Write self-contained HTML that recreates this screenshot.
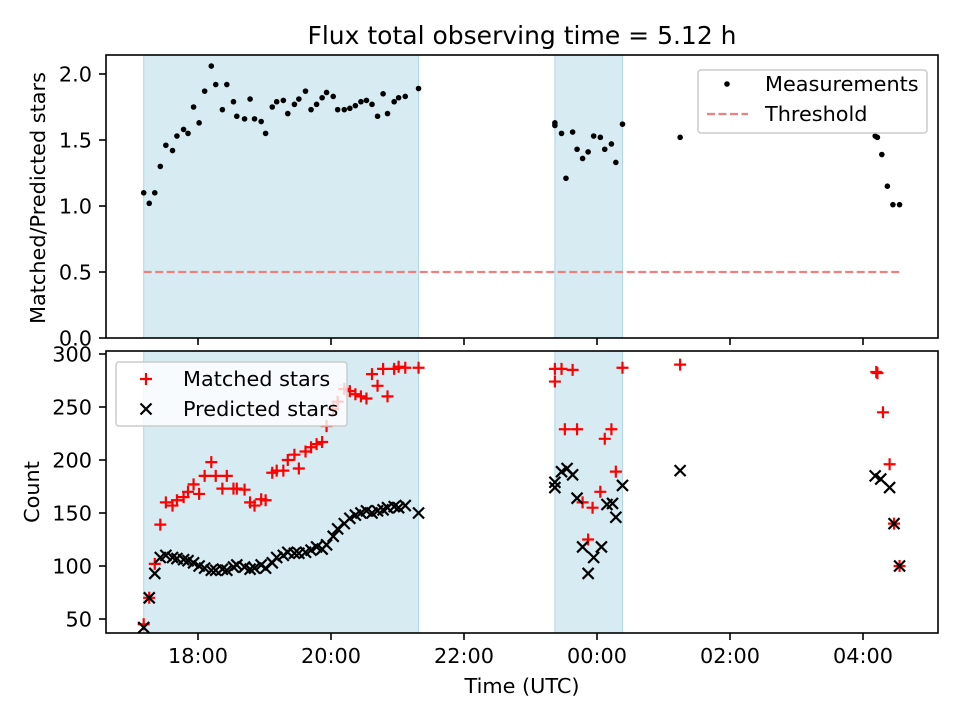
<!DOCTYPE html>
<html><head><meta charset="utf-8"><style>
body{margin:0;background:#fff}
svg{display:block;font-family:"DejaVu Sans","Liberation Sans",sans-serif}
</style></head><body>
<svg id="chart" width="960" height="720" viewBox="0 0 960 720"></svg>
<script>
// times in minutes since 16:00
const ratioTimes=[71,76,81,86,91,97,101,107,111,116,121,126,132,136,142,146,152,155,162,167,171,177,181,187,191,197,201,207,211,217,222,227,232,236,242,246,252,257,262,267,272,277,282,287,291,297,301,307,319,
442,442,448,452,458,462,467,472,477,483,487,493,497,503,555,731,733,737,742,747,753];
const ratioValues=[1.10,1.02,1.10,1.30,1.46,1.42,1.53,1.58,1.55,1.75,1.63,1.87,2.06,1.92,1.73,1.92,1.79,1.68,1.66,1.81,1.66,1.64,1.55,1.75,1.79,1.80,1.70,1.77,1.81,1.87,1.73,1.77,1.82,1.86,1.83,1.73,1.73,1.74,1.76,1.79,1.80,1.77,1.68,1.85,1.70,1.79,1.82,1.83,1.89,
1.63,1.61,1.55,1.21,1.56,1.43,1.36,1.41,1.53,1.52,1.43,1.47,1.33,1.62,1.52,1.53,1.52,1.39,1.15,1.01,1.01];
const matchedTimes=[71,76,81,86,91,97,101,107,111,116,121,126,132,136,142,146,152,155,162,167,171,177,181,187,191,197,201,207,211,217,222,227,232,236,242,246,252,257,262,267,272,277,282,287,291,297,301,307,319,
442,448,458,442,503,451,462,493,487,497,483,467,476,472,555,732,733,738,744,748,753];
const matchedValues=[45,70,102,139,160,157,162,165,170,177,168,185,198,185,173,185,173,173,172,160,157,163,162,188,190,190,200,205,192,208,212,215,217,232,248,255,267,265,262,260,258,281,270,286,260,286,288,287,287,
286,286,285,274,287,229,229,229,220,189,170,160,155,125,290,283,282,245,196,140,100];
const predTimes=[71,76,81,86,91,97,101,107,111,116,121,126,132,136,142,146,152,155,162,167,171,177,181,187,191,197,201,207,211,217,222,227,232,236,242,246,252,257,262,267,272,277,282,287,291,297,301,307,319,
442,442,448,453,458,462,503,489,494,497,467,484,477,472,555,731,736,744,748,753];
const predValues=[42,70,93,108,110,108,107,106,105,103,100,98,96,96,97,96,99,101,99,97,98,101,98,103,108,110,113,112,112,113,115,118,116,120,128,135,140,145,148,150,152,150,152,153,155,156,155,157,150,
179,174,189,192,186,164,176,158,159,146,118,118,108,93,190,185,182,174,140,100];
const thresholdTimes=[71,754];
const thresholdValue=0.5;
const spans=[[71,319],[442,503]];
const xTicks=[120,240,360,480,600,720];
const xTickLabels=["18:00","20:00","22:00","00:00","02:00","04:00"];
const topTicks=[0,0.5,1.0,1.5,2.0];
const topTickLabels=["0.0","0.5","1.0","1.5","2.0"];
const botTicks=[50,100,150,200,250,300];

const svg=document.getElementById('chart');
const NS='http://www.w3.org/2000/svg';
function el(tag,attrs,parent){const e=document.createElementNS(NS,tag);for(const k in attrs)e.setAttribute(k,attrs[k]);(parent||svg).appendChild(e);return e;}
const L=106,R=938,T1=55,B1=338,T2=351,B2=633;
const FS=20.8;
const xs=m=>198+(m-120)*(66.5/60);
const y1=v=>338-v*132;
const y2=v=>619-(v-50)*1.06;

let t=el('text',{x:522,y:44,'font-size':'25','text-anchor':'middle',fill:'#000'});t.textContent='Flux total observing time = 5.12 h';



function panel(top,bot,name){
  const g=el('g',{});
  
  
  el('rect',{x:L,y:top,width:R-L,height:bot-top,fill:'#fff'},g);
  spans.forEach(s=>{
    const r=el('rect',{x:xs(s[0]),y:top,width:xs(s[1])-xs(s[0]),height:bot-top,fill:'#add8e6','fill-opacity':0.5,stroke:'#add8e6','stroke-width':1},g);
    
    
  });
  return g;
}
const g1=panel(T1,B1,'ratio-panel');
const g2=panel(T2,B2,'count-panel');

const th=el('line',{x1:xs(thresholdTimes[0]),x2:xs(thresholdTimes[1]),y1:y1(thresholdValue),y2:y1(thresholdValue),stroke:'#f08080','stroke-width':2.2,'stroke-dasharray':'8,3.5'},g1);



ratioTimes.forEach((m,i)=>{
  const c=el('circle',{cx:xs(m),cy:y1(ratioValues[i]),r:2.8,fill:'#000'},g1);
  
  
});
matchedTimes.forEach((m,i)=>{
  const x=xs(m),y=y2(matchedValues[i]);
  const p=el('path',{d:`M${x-6},${y}H${x+6}M${x},${y-6}V${y+6}`,stroke:'#f00','stroke-width':2.2,fill:'none'},g2);
  
  
});
predTimes.forEach((m,i)=>{
  const x=xs(m),y=y2(predValues[i]);
  const p=el('path',{d:`M${x-5.5},${y-5.5}L${x+5.5},${y+5.5}M${x-5.5},${y+5.5}L${x+5.5},${y-5.5}`,stroke:'#000','stroke-width':2.2,fill:'none'},g2);
  
  
});

[[T1,B1],[T2,B2]].forEach(([top,bot],pi)=>{
  const f=el('rect',{x:L,y:top,width:R-L,height:bot-top,fill:'none',stroke:'#000','stroke-width':1.6});
  
  
  xTicks.forEach((m,i)=>{
    el('line',{x1:xs(m),x2:xs(m),y1:bot,y2:bot+7,stroke:'#000','stroke-width':1.6});
    if(pi){const tl=el('text',{x:xs(m),y:bot+30,'font-size':FS,'text-anchor':'middle'});tl.textContent=xTickLabels[i];
      
      }
  });
});
topTicks.forEach((v,i)=>{
  el('line',{x1:L-7,x2:L,y1:y1(v),y2:y1(v),stroke:'#000','stroke-width':1.6});
  const tl=el('text',{x:L-14,y:y1(v)+7.5,'font-size':FS,'text-anchor':'end'});tl.textContent=topTickLabels[i];
  
  
});
botTicks.forEach(v=>{
  el('line',{x1:L-7,x2:L,y1:y2(v),y2:y2(v),stroke:'#000','stroke-width':1.6});
  const tl=el('text',{x:L-14,y:y2(v)+7.5,'font-size':FS,'text-anchor':'end'});tl.textContent=String(v);
  
  
});
let a=el('text',{x:0,y:0,'font-size':FS,'text-anchor':'middle',transform:'translate(45,198) rotate(-90)'});a.textContent='Matched/Predicted stars';


a=el('text',{x:0,y:0,'font-size':FS,'text-anchor':'middle',transform:'translate(39,492) rotate(-90)'});a.textContent='Count';


a=el('text',{x:522,y:693,'font-size':FS,'text-anchor':'middle'});a.textContent='Time (UTC)';



const lg1=el('g',{});


el('rect',{x:698,y:70,width:229,height:63,rx:3,fill:'#fff','fill-opacity':0.8,stroke:'#ccc','stroke-width':1.5},lg1);
el('circle',{cx:727,cy:84,r:2.8,fill:'#000'},lg1);
el('line',{x1:707,x2:748,y1:114,y2:114,stroke:'#f08080','stroke-width':2.2,'stroke-dasharray':'8,3.5'},lg1);
a=el('text',{x:765,y:91,'font-size':FS},lg1);a.textContent='Measurements';


a=el('text',{x:765,y:121,'font-size':FS},lg1);a.textContent='Threshold';



const lg2=el('g',{});


el('rect',{x:116,y:362,width:231,height:64,rx:3,fill:'#fff','fill-opacity':0.8,stroke:'#ccc','stroke-width':1.5},lg2);
el('path',{d:'M140,379H152M146,373V385',stroke:'#f00','stroke-width':2.2},lg2);
el('path',{d:'M140.5,403.5L151.5,414.5M140.5,414.5L151.5,403.5',stroke:'#000','stroke-width':2.2},lg2);
a=el('text',{x:183,y:386,'font-size':FS},lg2);a.textContent='Matched stars';


a=el('text',{x:183,y:416,'font-size':FS},lg2);a.textContent='Predicted stars';


</script>
</body></html>
